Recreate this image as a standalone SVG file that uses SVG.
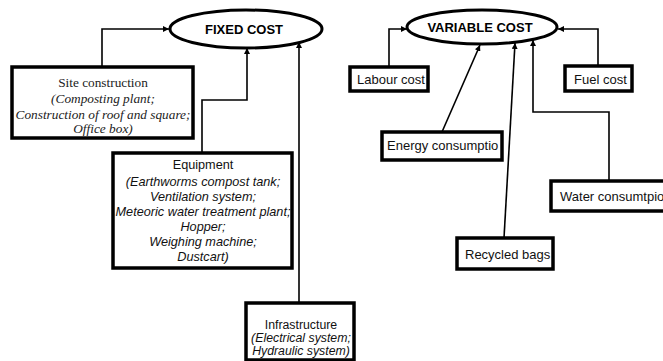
<svg xmlns="http://www.w3.org/2000/svg" width="663" height="361" viewBox="0 0 663 361">
<style>
.box{fill:#fff;stroke:#000;stroke-width:3.5}
.ell{fill:#fff;stroke:#000;stroke-width:3}
.con{fill:none;stroke:#000;stroke-width:1.6}
.sans{font-family:"Liberation Sans",Arial,sans-serif;font-size:12.7px;fill:#111}
.inf{font-family:"Liberation Sans",Arial,sans-serif;font-size:12.3px;fill:#111}
.lbl{font-family:"Liberation Sans",Arial,sans-serif;font-size:13px;fill:#111}
.serif{font-family:"Liberation Serif","Times New Roman",serif;font-size:13.3px;fill:#222}
.title{font-family:"Liberation Sans",Arial,sans-serif;font-size:13px;font-weight:bold;fill:#000}
.it{font-style:italic}
</style>
<defs>
<marker id="arr" viewBox="0 0 10 10" refX="10" refY="5" markerWidth="6" markerHeight="6" markerUnits="userSpaceOnUse" orient="auto">
<path d="M0,0 L10,5 L0,10 z" fill="#000"/>
</marker>
</defs>
<g id="connectors">
<polyline class="con" points="102,67 102,29 169,29" marker-end="url(#arr)"/>
<polyline class="con" points="202,153 202,100 247,100 247,48" marker-end="url(#arr)"/>
<polyline class="con" points="299,303 299,42" marker-end="url(#arr)"/>
<polyline class="con" points="389,67 389,29 407,29" marker-end="url(#arr)"/>
<polyline class="con" points="598,66 598,29 558,29" marker-end="url(#arr)"/>
<line class="con" x1="442" y1="132" x2="480" y2="45" marker-end="url(#arr)"/>
<line class="con" x1="504" y1="238" x2="515" y2="43" marker-end="url(#arr)"/>
<polyline class="con" points="609,181 609,112 533,112 533,40" marker-end="url(#arr)"/>
</g>
<g id="fixed-cost">
<ellipse class="ell" cx="246" cy="29" rx="76" ry="19"/>
<text class="title" x="244" y="34" text-anchor="middle">FIXED COST</text>
</g>
<g id="variable-cost">
<ellipse class="ell" cx="482" cy="27" rx="75" ry="17"/>
<text class="title" x="480" y="32" text-anchor="middle">VARIABLE COST</text>
</g>
<g id="site-construction">
<rect class="box" x="12" y="67" width="181" height="71"/>
<text class="serif" x="103" y="87" text-anchor="middle">Site construction</text>
<text class="serif it" x="103" y="103" text-anchor="middle">(Composting plant;</text>
<text class="serif it" x="103" y="119" text-anchor="middle">Construction of roof and square;</text>
<text class="serif it" x="103" y="133" text-anchor="middle">Office box)</text>
</g>
<g id="equipment">
<rect class="box" x="113" y="153" width="179" height="115"/>
<text class="sans" x="203" y="169" text-anchor="middle">Equipment</text>
<text class="sans it" x="203" y="186" text-anchor="middle">(Earthworms compost tank;</text>
<text class="sans it" x="203" y="201" text-anchor="middle">Ventilation system;</text>
<text class="sans it" x="203" y="216" text-anchor="middle">Meteoric water treatment plant;</text>
<text class="sans it" x="203" y="231" text-anchor="middle">Hopper;</text>
<text class="sans it" x="203" y="246" text-anchor="middle">Weighing machine;</text>
<text class="sans it" x="203" y="261" text-anchor="middle">Dustcart)</text>
</g>
<g id="infrastructure">
<rect class="box" x="246" y="303" width="108" height="57"/>
<text class="inf" x="301" y="329" text-anchor="middle">Infrastructure</text>
<text class="inf it" x="301" y="342" text-anchor="middle">(Electrical system;</text>
<text class="inf it" x="301" y="355" text-anchor="middle">Hydraulic system)</text>
</g>
<g id="labour-cost">
<rect class="box" x="350" y="67" width="78" height="24"/>
<text class="lbl" x="357" y="84">Labour cost</text>
</g>
<g id="fuel-cost">
<rect class="box" x="565" y="66" width="67" height="25"/>
<text class="lbl" x="574" y="84">Fuel cost</text>
</g>
<g id="energy-consumption">
<rect class="box" x="382" y="132" width="120" height="28"/>
<text class="lbl" x="387" y="150">Energy consumptio</text>
</g>
<g id="recycled-bags">
<rect class="box" x="457" y="238" width="96" height="31"/>
<text class="lbl" x="465" y="259">Recycled bags</text>
</g>
<g id="water-consumption">
<rect class="box" x="551" y="181" width="120" height="30"/>
<text class="lbl" x="560" y="201">Water consumtpio</text>
</g>
</svg>
